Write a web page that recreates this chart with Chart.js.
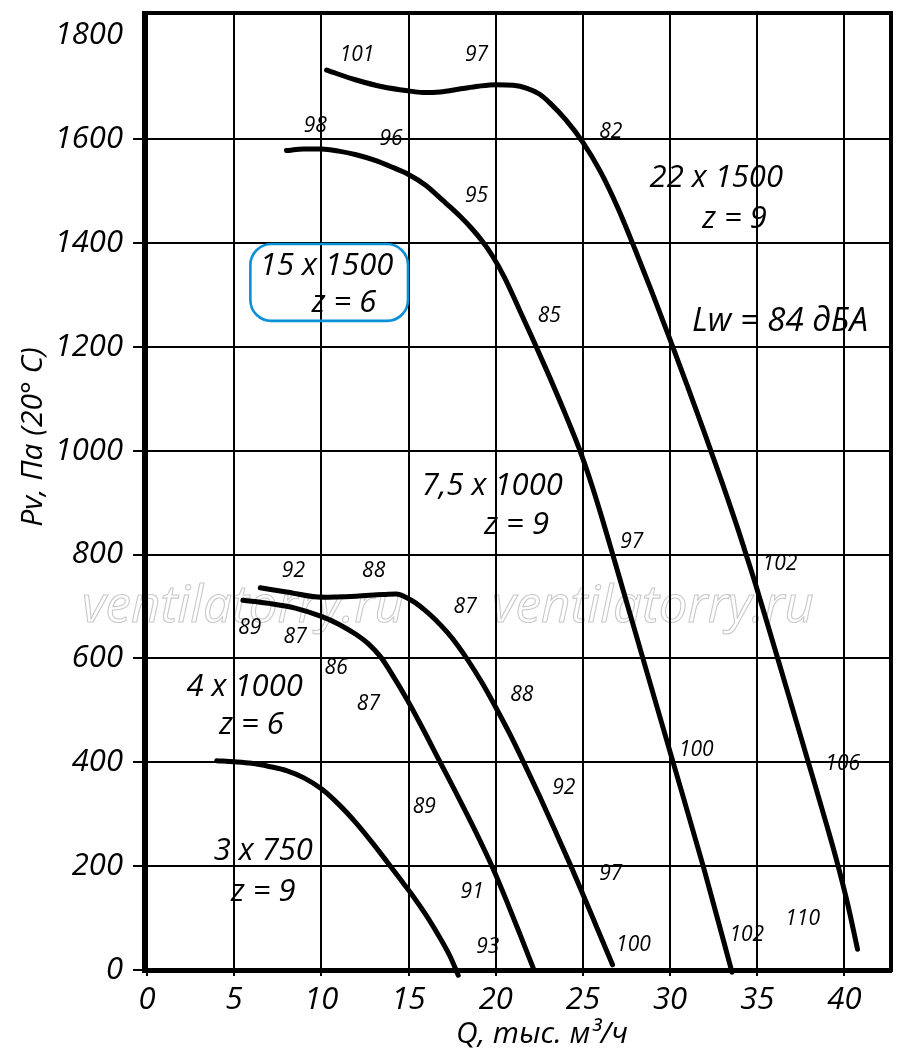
<!DOCTYPE html>
<html>
<head>
<meta charset="utf-8">
<script src="https://cdn.jsdelivr.net/npm/chart.js@4.4.1/dist/chart.umd.min.js"></script>
<style>
  html, body { margin: 0; padding: 0; background: #fff; }
  #wrap { width: 900px; height: 1055px; }
</style>
</head>
<body>
<div id="wrap"><canvas id="c" width="900" height="1055"></canvas></div>
<script>
// ---- Data (Q in thousand m3/h, Pv in Pa) ----
const xTicks = [0, 5, 10, 15, 20, 25, 30, 35, 40];
const yTicks = [0, 200, 400, 600, 800, 1000, 1200, 1400, 1600, 1800];

// 3 x 750
const qCurve1 = [4, 5, 6, 7, 8, 9, 10, 11, 12, 13, 13.8, 14.5, 15.2, 16, 16.8, 17.4, 17.85];
const pCurve1 = [403, 401, 398, 392, 384, 370, 349, 319, 283, 242, 207, 176, 145, 106, 62, 25, -10];

// 4 x 1000
const qCurve2 = [5.5, 7, 8.5, 10, 11, 12, 12.7, 13.4, 14.1, 14.9, 15.8, 16.8, 17.7, 18.5, 19.2, 19.85, 20.6, 21.4, 22.15];
const pCurve2 = [712, 706, 697, 681, 666, 646, 628, 603, 567, 522, 466, 401, 343, 290, 242, 195, 135, 68, 4];

// 7,5 x 1000
const qCurve3 = [6.5, 8, 10, 12, 13.5, 14.3, 14.9, 15.4, 15.9, 16.5, 17.2, 17.8, 18.4, 19.2, 20, 20.8, 21.6, 22.5, 23.4, 24.3, 25, 25.8, 26.7];
const pCurve3 = [736, 728, 718, 720, 723, 724, 717, 707, 694, 676, 651, 626, 597, 554, 506, 455, 400, 336, 269, 201, 146, 82, 10];

// 15 x 1500
const qCurve4 = [8, 9, 10, 11, 12, 13, 14, 15, 16, 17, 17.4, 18, 18.6, 19.2, 19.8, 20.5, 21.3, 22.1, 23, 24, 24.8, 25.5, 26.1, 26.6, 27, 28.4, 30, 31.9, 33.55];
const pCurve4 = [1578, 1581, 1581, 1577, 1570, 1560, 1547, 1532, 1511, 1481, 1469, 1450, 1429, 1405, 1376, 1334, 1276, 1217, 1149, 1070, 1003, 935, 870, 813, 767, 605, 420, 200, -4];

// 22 x 1500
const qCurve5 = [10.3, 12, 13.5, 15, 15.8, 16.8, 18, 19, 20, 21, 21.8, 22.5, 23.1, 24, 25, 26, 27, 28, 29, 30, 31, 32, 33, 34, 34.8, 35.5, 36.2, 37, 38, 39, 39.6, 40.2, 40.75];
const pCurve5 = [1733, 1714, 1701, 1693, 1690, 1691, 1697, 1702, 1705, 1704, 1698, 1687, 1670, 1638, 1594, 1538, 1468, 1387, 1302, 1214, 1124, 1032, 937, 838, 754, 676, 597, 506, 392, 277, 205, 125, 40];

// Noise level labels along the curves [Q, P, text]
const noiseLabels = [
  [12.05, 1763, '101'], [18.9, 1763, '97'], [9.65, 1626, '98'], [14.0, 1601, '96'],
  [26.6, 1614, '82'], [18.9, 1491, '95'], [23.07, 1259, '85'], [27.8, 825, '97'],
  [36.3, 781, '102'], [8.4, 768, '92'], [13.0, 768, '88'], [18.25, 700, '87'],
  [5.9, 658, '89'], [8.5, 642, '87'], [10.85, 582, '86'], [21.5, 530, '88'],
  [12.7, 513, '87'], [31.5, 424, '100'], [39.9, 397, '106'], [23.9, 351, '92'],
  [15.9, 314, '89'], [26.6, 185, '97'], [18.65, 150, '91'], [37.6, 98, '110'],
  [19.55, 44, '93'], [27.9, 48, '100'], [34.4, 67, '102']
];

// Fan model labels [Q, P, text]
const modelLabels = [
  [32.65, 1524, '22 x 1500'], [33.7, 1446, 'z = 9'],
  [10.3, 1356, '15 x 1500'], [11.3, 1284, 'z = 6'],
  [19.8, 931, '7,5 x 1000'], [21.2, 856, 'z = 9'],
  [5.6, 544, '4 x 1000'], [6.0, 471, 'z = 6'],
  [6.67, 228, '3 x 750'], [6.67, 150, 'z = 9']
];
const levelLabel = [36.3, 1248, 'Lw = 84 дБА'];
// highlighted box (Q range, P range)
const boxQ = [5.93, 14.97];
const boxP = [1250, 1398];

const xTitle = 'Q, тыс. м³/ч';
const yTitle = 'Pv, Па (20° C)';
const watermark = 'ventilatorry.ru';

// ---- Build ----
const FONT = '"Open Sans", "Noto Sans", sans-serif';
function pts(q, p) { return q.map((v, i) => ({ x: v, y: p[i] })); }
const curves = [[qCurve1, pCurve1], [qCurve2, pCurve2], [qCurve3, pCurve3], [qCurve4, pCurve4], [qCurve5, pCurve5]];
const curveNames = ['3 x 750', '4 x 1000', '7,5 x 1000', '15 x 1500', '22 x 1500'];

const datasets = curves.map((c, i) => ({
  label: curveNames[i],
  data: pts(c[0], c[1]),
  borderColor: '#000',
  borderWidth: 5,
  borderCapStyle: 'round',
  borderJoinStyle: 'round',
  pointRadius: 0,
  fill: false,
  cubicInterpolationMode: 'monotone',
  clip: false
}));

const bgPlugin = {
  id: 'bg',
  beforeDraw(chart) {
    const ctx = chart.ctx;
    ctx.save();
    ctx.fillStyle = '#fff';
    ctx.fillRect(0, 0, chart.width, chart.height);
    // watermark
    ctx.font = 'italic 52px ' + FONT;
    ctx.strokeStyle = '#c9c9c9';
    ctx.lineWidth = 1.1;
    ctx.textBaseline = 'alphabetic';
    ctx.textAlign = 'left';
    const w = ctx.measureText(watermark).width;
    [[82, 622], [492, 622]].forEach(([x, y]) => {
      ctx.save();
      ctx.translate(x, y);
      ctx.scale(322 / w, 1);
      ctx.strokeText(watermark, 0, 0);
      ctx.restore();
    });
    ctx.restore();
  }
};

const overlayPlugin = {
  id: 'overlay',
  afterDraw(chart) {
    const ctx = chart.ctx;
    const xs = chart.scales.x, ys = chart.scales.y;
    const a = chart.chartArea;
    ctx.save();
    // frame top / right
    ctx.strokeStyle = '#000';
    ctx.lineWidth = 4;
    ctx.lineCap = 'square';
    ctx.beginPath();
    ctx.moveTo(a.left, a.top);
    ctx.lineTo(a.right, a.top);
    ctx.lineTo(a.right, a.bottom);
    ctx.stroke();

    // blue box
    const bx0 = xs.getPixelForValue(boxQ[0]), bx1 = xs.getPixelForValue(boxQ[1]);
    const by0 = ys.getPixelForValue(boxP[1]), by1 = ys.getPixelForValue(boxP[0]);
    ctx.strokeStyle = '#0a8fd9';
    ctx.lineWidth = 2.6;
    ctx.beginPath();
    ctx.roundRect(bx0, by0, bx1 - bx0, by1 - by0, 21);
    ctx.stroke();

    ctx.fillStyle = '#000';
    ctx.textAlign = 'center';
    ctx.textBaseline = 'middle';
    ctx.font = 'italic 21px ' + FONT;
    noiseLabels.forEach(([q, p, t]) => {
      ctx.fillText(t, xs.getPixelForValue(q), ys.getPixelForValue(p));
    });
    ctx.font = 'italic 31px ' + FONT;
    modelLabels.forEach(([q, p, t]) => {
      ctx.fillText(t, xs.getPixelForValue(q), ys.getPixelForValue(p));
    });
    ctx.font = 'italic 33px ' + FONT;
    ctx.fillText(levelLabel[2], xs.getPixelForValue(levelLabel[0]), ys.getPixelForValue(levelLabel[1]));

    // axis titles
    ctx.font = 'italic 30px ' + FONT;
    ctx.fillText(xTitle, 542, 1034);
    ctx.save();
    ctx.translate(33, 437);
    ctx.rotate(-Math.PI / 2);
    ctx.fillText(yTitle, 0, 0);
    ctx.restore();
    ctx.restore();
  }
};

function noPad(s) { s.paddingTop = 0; s.paddingBottom = 0; s.paddingLeft = 0; s.paddingRight = 0; }

new Chart(document.getElementById('c'), {
  type: 'line',
  data: { datasets },
  options: {
    responsive: false,
    animation: false,
    devicePixelRatio: 1,
    layout: { padding: { top: 13, right: 9, left: 0, bottom: 0 } },
    plugins: { legend: { display: false }, tooltip: { enabled: false } },
    scales: {
      x: {
        type: 'linear',
        min: -0.17,
        max: 42.67,
        afterBuildTicks(s) { s.ticks = xTicks.map(v => ({ value: v })); },
        afterFit(s) { s.height = 85; noPad(s); },
        grid: { color: '#000', lineWidth: 2, tickLength: 6, drawTicks: true },
        border: { color: '#000', width: 5 },
        ticks: {
          color: '#000',
          padding: 6,
          maxRotation: 0,
          font: { family: FONT, style: 'italic', size: 31 },
          callback: v => String(v)
        }
      },
      y: {
        type: 'linear',
        min: 0,
        max: 1843,
        afterBuildTicks(s) { s.ticks = yTicks.map(v => ({ value: v })); },
        afterFit(s) { s.width = 144; noPad(s); },
        grid: {
          color: ctx => (ctx.tick && ctx.tick.value === 1800) ? 'rgba(0,0,0,0)' : '#000',
          lineWidth: 2, tickLength: 11
        },
        border: { color: '#000', width: 5 },
        ticks: {
          color: '#000',
          padding: 10,
          font: { family: FONT, style: 'italic', size: 31 },
          callback: v => String(v)
        }
      }
    }
  },
  plugins: [bgPlugin, overlayPlugin]
});
</script>
</body>
</html>
